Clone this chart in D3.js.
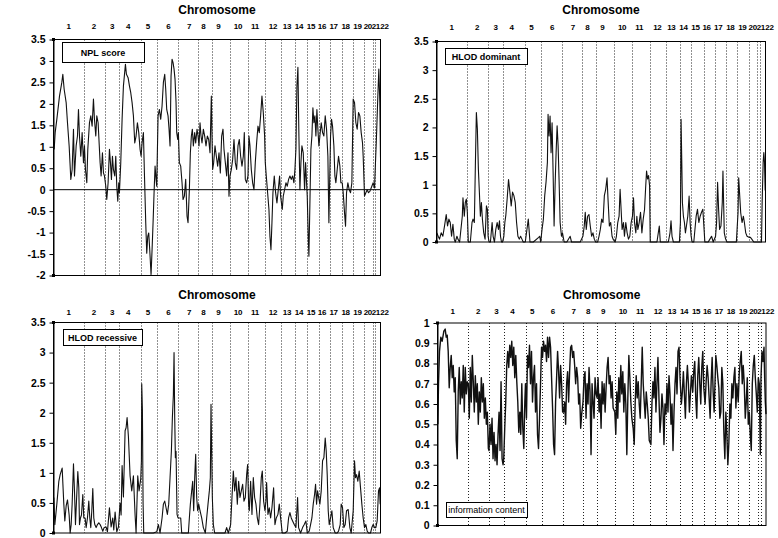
<!DOCTYPE html>
<meta charset="utf-8">
<script src="https://d3js.org/d3.v7.min.js"></script>
<style type="text/css">
body { margin: 0; background: #fff; }
text { font-family: Arial, "Liberation Sans", sans-serif; fill: #000; }
.tick text { font-weight: bold; font-size: 10.5px; }
.title { font-weight: bold; font-size: 12px; text-anchor: middle; }
.chrom { font-weight: bold; font-size: 8px; text-anchor: middle; letter-spacing: -0.3px; }
.boxlab { font-weight: bold; font-size: 9px; text-anchor: middle; }
.sep { stroke: #222; stroke-width: 1; stroke-dasharray: 1,2; }
.frame { fill: none; stroke: #000; stroke-width: 1; }
.trace { fill: none; stroke: #111; stroke-width: 1.1; stroke-linejoin: round; }
</style>
<body>
<script>

// chromosome layout along the genome axis (arbitrary map units)
var chromosomes = ["1","2","3","4","5","6","7","8","9","10","11","12","13","14","15","16","17","18","19","20","21","22"];
var chrBounds = [0, 92, 154, 198, 264, 311, 375, 434, 476, 530, 585, 636, 684, 726, 760, 798, 830, 865, 898, 932, 958, 966, 982];
var chrLabelPos = [45, 121, 176, 224, 283, 345, 407, 450, 495, 554, 605, 659, 701, 737, 773, 806, 841, 877, 913, 944, 968, 994];

var ticksLod = [0, 0.5, 1, 1.5, 2, 2.5, 3, 3.5];
var ticksNpl = [-2, -1.5, -1, -0.5, 0, 0.5, 1, 1.5, 2, 2.5, 3, 3.5];
var ticksInfo = [0, 0.1, 0.2, 0.3, 0.4, 0.5, 0.6, 0.7, 0.8, 0.9, 1];

// [position, value]
var nplScore = [
[2,0.94],[5,1.33],[10,1.64],[18,2.18],[25,2.50],[28,2.69],[32,2.34],[38,2.03],[42,1.56],[47,1.02],[52,0.24],[56,0.47],[60,1.41],[63,0.32],[68,1.02],[72,1.25],[75,1.87],[78,1.25],[82,0.78],[86,1.33],[90,0.63],[93,1.02],[96,0.47],[100,0.16],
[103,0.94],[108,1.56],[112,1.72],[116,1.48],[120,2.11],[123,1.64],[127,1.25],[130,1.72],[134,1.56],[137,1.09],[140,0.63],[143,0.32],[147,0.86],[150,0.39],[153,0.32],
[157,0.08],[160,-0.23],[164,0.16],[168,0.94],[171,0.63],[174,0.24],[177,0.78],[180,0.47],[184,0.32],[187,0.78],[190,0.08],[193,-0.27],[196,0.16],[198,-0.07],
[202,0.63],[206,1.64],[210,2.42],[216,2.92],[219,2.69],[224,2.61],[228,2.42],[232,2.26],[236,2.03],[240,1.72],[244,1.09],[248,1.25],[252,1.56],[256,1.33],[260,0.94],[263,0.78],[266,1.09],[270,1.33],
[273,0.39],[277,-0.77],[280,-1.48],[283,-1.09],[286,-1.01],[289,-1.40],[293,-1.98],[296,-1.40],[299,-0.77],[302,-0.07],[305,0.55],[308,0.24],[310,0.08],
[314,1.72],[318,1.87],[322,1.64],[326,1.95],[330,2.50],[334,2.69],[337,2.34],[340,1.87],[344,1.72],[347,1.41],[350,1.02],[353,2.65],[356,3.04],[359,2.96],[362,2.81],[365,2.57],[368,2.03],[370,1.33],[373,1.17],[375,1.33],
[378,0.63],[382,0.55],[386,0.16],[389,-0.23],[393,-0.15],[397,0.24],[401,-0.62],[404,-0.77],[408,0.00],[411,0.86],[414,1.25],[417,1.41],[420,1.02],[424,1.33],[427,1.09],[431,1.41],[434,1.25],
[437,1.02],[440,1.56],[443,1.25],[446,1.09],[450,1.41],[454,1.25],[458,1.02],[462,1.25],[466,1.17],[470,0.86],[474,2.18],[476,1.25],[478,0.47],
[481,0.63],[485,1.02],[489,0.78],[493,0.55],[497,0.86],[501,0.39],[505,1.25],[509,1.41],[512,0.94],[516,0.63],[520,0.32],[524,0.86],[527,-0.15],[530,0.32],
[534,0.47],[538,0.70],[542,1.17],[546,0.63],[550,0.47],[554,1.02],[558,1.17],[562,0.78],[566,0.55],[570,0.78],[573,1.33],[576,0.24],[580,0.16],[584,0.32],[587,1.25],
[590,1.02],[594,0.47],[598,0.16],[602,0.00],[606,0.63],[610,1.09],[614,1.48],[618,1.33],[622,1.72],[626,2.18],[630,1.80],[634,1.25],[636,0.63],
[639,0.32],[643,-0.07],[647,-0.46],[650,-1.09],[653,-1.40],[656,-0.77],[659,-0.07],[663,0.32],[667,-0.07],[671,-0.31],[675,0.00],[679,0.32],[682,-0.15],
[687,-0.46],[690,-0.15],[694,0.00],[698,0.16],[702,0.08],[706,0.24],[710,0.32],[714,0.24],[718,0.32],[722,0.16],[725,0.47],
[728,0.94],[731,2.42],[734,2.85],[737,1.25],[740,0.00],[743,0.63],[746,1.02],[750,0.86],[754,0.00],[757,0.63],
[762,-0.15],[765,-1.09],[767,-1.55],[770,-0.31],[773,0.94],[776,1.25],[779,1.91],[782,1.56],[785,1.72],[788,1.25],[791,1.87],[794,1.41],[797,1.02],
[800,1.25],[804,1.56],[808,1.33],[812,1.25],[816,1.72],[820,1.41],[824,0.78],[827,-0.77],
[832,1.25],[835,1.64],[838,1.48],[842,1.02],[845,0.32],[848,0.16],[852,0.47],[856,0.78],[860,0.55],[863,0.16],
[867,0.16],[870,-0.07],[874,-0.54],[877,-0.85],[880,-0.07],[884,0.16],[888,0.00],[892,-0.07],[896,0.16],
[900,2.11],[904,2.03],[908,1.56],[912,1.41],[916,1.80],[920,1.72],[924,1.33],[928,1.09],[930,0.78],
[934,-0.15],[938,-0.07],[942,0.00],[946,-0.07],[950,-0.04],[954,0.04],
[960,0.16],[964,0.04],
[970,1.25],[974,2.18],[977,2.81],[980,2.03],[982,0.75]
];

var hlodDominant = [
[1,0.16],[5,0.10],[9,0.05],[14,0.16],[19,0.10],[24,0.28],[29,0.48],[33,0.28],[37,0.40],[41,0.34],[45,0.10],[49,0.31],[53,0.05],[56,0],[61,0.10],[64,0.05],[69,0],[77,0.45],[79,0.77],[83,0.45],[86,0.69],[89,0.75],[92,0.52],
[95,0],[101,0],[106,0.34],[109,0.40],[113,0.34],[116,1.33],[119,2.26],[122,1.97],[125,1.27],[128,0.87],[131,0.45],[134,0.69],[137,0.40],[141,0.16],[145,0.05],[149,0.63],[152,0.57],[154,0.10],
[157,0],[161,0],[166,0.34],[169,0.10],[173,0],[177,0.22],[181,0.34],[185,0.22],[188,0.37],[191,0.10],[194,0],[197,0],
[201,0.10],[204,0.34],[207,0.47],[211,0.76],[215,1.09],[219,0.87],[223,0.63],[227,0.87],[231,0.81],[235,0.69],[239,0.34],[243,0.10],[247,0.05],[251,0.10],[255,0.05],[259,0],
[265,0],[274,0.40],[279,0],[289,0],[305,0.08],[308,0.10],[311,0],
[315,0.22],[319,0.40],[323,0.81],[327,1.05],[331,1.39],[333,2.23],[336,1.85],[339,2.20],[342,1.56],[345,2.08],[348,1.22],[351,0.28],[354,0.98],[357,1.56],[360,2.03],[363,1.68],[366,1.05],[369,0.34],[373,0.10],[376,0.16],
[381,0],[389,0],[399,0.10],[403,0],[419,0],[429,0],
[437,0.10],[441,0.28],[444,0.52],[447,0.22],[451,0.45],[455,0.48],[459,0.28],[463,0.10],[467,0.16],[471,0.05],[475,0],
[481,0],[485,0.10],[489,0.22],[493,0.40],[497,0.34],[501,0.81],[505,0.92],[509,1.12],[512,0.74],[516,0.28],[520,0.34],[524,0.10],[527,0.05],
[533,0],[537,0.10],[541,0.34],[545,0.45],[548,0.92],[551,0.57],[554,0.22],[558,0.34],[561,0.10],[565,0.34],[569,0.16],[573,0.05],[577,0.10],[581,0.34],[585,0.45],
[588,0.77],[591,0.34],[595,0.16],[598,0.45],[601,0.22],[605,0.34],[609,0.52],[613,0.16],[617,0.40],[621,0.57],[624,0.92],[627,1.24],[630,1.10],[633,1.16],[636,0.98],
[638,0],[648,0],[658,0],[665,0.28],[668,0],[678,0],[683,0],
[687,0],[692,0],[697,0.16],[700,0.37],[703,0.10],[707,0],[717,0],[725,0],
[728,0.34],[730,2.14],[732,1.44],[734,0.69],[737,0.45],[740,0.34],[743,0.16],[746,0.28],[750,0.45],[754,0.80],[757,0.34],[760,0.10],
[763,0],[768,0],[775,0.45],[779,0.57],[783,0.34],[787,0.45],[791,0.52],[795,0.57],
[801,0],[806,0],[811,0],[816,0.05],[821,0.10],[826,0],
[833,0.10],[836,0.34],[839,1.04],[842,0.57],[845,0.22],[849,0.28],[853,0.69],[855,1.24],[857,0.69],[859,0.16],[863,0.05],
[867,0],[877,0],[887,0],[895,0],
[900,0.51],[902,1.12],[905,0.81],[908,0.51],[912,0.34],[916,0.45],[919,0.34],[923,0.16],[927,0.10],
[934,0.08],[937,0.08],[941,0.05],[947,0],[955,0],
[960,0],[964,0],
[970,0],[972,0.69],[975,1.39],[977,1.56],[979,1.39],[981,0.90]
];

var hlodRecessive = [
[1,0.59],[4,0.14],[10,0.48],[16,0.86],[20,0.97],[26,1.08],[31,0.48],[34,0.20],[38,0.45],[42,0.55],[47,0.30],[50,0],[53,0.14],[56,0.48],[60,1.15],[63,0.70],[66,0.14],[69,0.53],[73,1.02],[76,0.75],[78,0.14],[81,0.25],[84,0.30],[88,0.64],[91,0.25],
[95,0.25],[98,0.09],[102,0.25],[106,0.53],[109,0.25],[112,0.09],[115,0.37],[118,0.74],[121,0.25],[124,0.14],[128,0.09],[132,0.14],[136,0.17],[140,0.14],[144,0.09],[148,0.03],[152,0.09],
[158,0.10],[162,0.02],[168,0.42],[173,0.10],[178,0.25],[181,0.05],[185,0.35],[190,0.02],[195,0.10],
[200,0.50],[203,0.30],[206,1.12],[210,0.60],[215,1.70],[218,1.75],[221,1.92],[225,1.60],[230,0.95],[235,0.70],[240,0.95],[245,0.30],[248,0],[253,0.95],[257,0.70],[262,0.90],[264,1.20],[265,2.48],[267,2.05],[269,0.50],[271,0],
[280,0],[290,0],[300,0],[310,0.02],
[315,0.14],[320,0],[326,0.25],[330,0.48],[334,0.53],[338,0.42],[342,0.31],[346,0.48],[350,0.92],[354,1.36],[357,1.92],[360,2.30],[362,3.00],[364,1.92],[366,1.25],[368,1.36],[371,0.31],[374,0.25],
[378,0.25],[382,0.25],[385,0],[390,0],[405,0],[408,0.25],[411,0.48],[415,0.70],[418,0.86],[421,0.37],[424,0.92],[427,1.31],[430,0.59],[433,0.37],
[436,0.48],[440,0.37],[445,0.25],[450,0.09],[456,0],[460,0.25],[464,0.48],[468,0.70],[471,0.92],[473,2.14],[475,1.36],[477,0.59],
[480,0.14],[484,0],[500,0],[515,0],[520,0.09],[525,0],
[532,0.14],[536,0.59],[540,1.03],[544,0.70],[548,0.92],[552,0.48],[556,0.86],[560,0.59],[564,0.70],[568,0.81],[572,0.53],[576,0.59],[580,0.97],[583,1.14],[586,0.48],
[588,0.37],[592,0.86],[596,0.31],[600,0.92],[604,0.59],[608,0.48],[612,0.25],[616,0.14],[620,0.48],[624,0.92],[627,1.03],[631,0.53],[635,0.37],
[638,0.53],[640,0.84],[644,0.31],[648,0.42],[652,0.25],[656,0.42],[661,0.75],[665,0.14],[669,0.25],[674,0.31],[678,0.48],[682,0.25],
[687,0],[695,0],[702,0.03],[706,0.25],[710,0.34],[714,0.25],[718,0.20],[723,0.14],
[728,0.09],[733,0.59],[736,0.09],[742,0],[748,0.09],[753,0.14],[758,0.20],
[762,0],[768,0.03],[772,0.14],[776,0.25],[780,0.48],[784,0.64],[787,0.81],[790,0.48],[793,0.70],[796,0.60],
[800,0.48],[804,0.70],[808,1.20],[812,1.25],[816,1.58],[819,1.36],[822,0.97],[825,0.37],[828,0.14],
[832,0.25],[836,0.37],[840,0.09],[846,0],[852,0],[856,0.03],[861,0.14],[864,0.48],
[868,0.42],[872,0.09],[876,0.14],[880,0.37],[885,0.39],[890,0.09],[894,0],
[900,0.37],[904,1.20],[907,0.92],[910,0.97],[914,0.86],[918,1.03],[922,0.75],[926,0.48],[930,0.25],
[934,0.09],[938,0.14],[942,0.03],[946,0],[952,0],[956,0.09],
[960,0.14],[964,0.09],
[968,0.09],[972,0.20],[976,0.70],[979,0.75],[981,0.48]
];

var infoContent = [
[1,0.50],[3,0.70],[6,0.86],[10,0.93],[14,0.91],[19,0.96],[23,0.97],[26,0.93],[29,0.94],[32,0.86],[35,0.68],[38,0.78],[41,0.84],[44,0.73],[47,0.79],[50,0.66],[53,0.73],[56,0.42],[59,0.33],[62,0.66],[65,0.78],[68,0.60],[71,0.71],[74,0.63],[77,0.79],[80,0.56],[83,0.78],[86,0.65],[89,0.71],
[92,0.70],[95,0.53],[98,0.78],[101,0.61],[104,0.84],[107,0.71],[110,0.56],[113,0.74],[116,0.61],[119,0.70],[122,0.50],[125,0.66],[128,0.56],[131,0.73],[134,0.61],[137,0.70],[140,0.53],[143,0.63],[146,0.50],[149,0.56],[152,0.38],
[154,0.37],[157,0.50],[160,0.40],[163,0.53],[166,0.33],[169,0.46],[172,0.32],[175,0.40],[178,0.30],[181,0.45],[184,0.56],[187,0.37],[190,0.71],[193,0.33],[196,0.30],
[198,0.33],[201,0.48],[204,0.61],[207,0.79],[210,0.86],[213,0.78],[216,0.89],[219,0.83],[222,0.91],[225,0.79],[228,0.88],[231,0.73],[234,0.84],[237,0.71],[240,0.61],[243,0.46],[246,0.56],[249,0.45],[252,0.70],[255,0.48],[258,0.38],[261,0.61],
[263,0.70],[266,0.53],[269,0.84],[272,0.78],[275,0.89],[278,0.70],[281,0.86],[284,0.61],[287,0.73],[290,0.79],[293,0.56],[296,0.70],[299,0.45],[302,0.38],[305,0.53],[308,0.70],
[311,0.88],[314,0.83],[317,0.91],[320,0.86],[323,0.89],[326,0.81],[329,0.93],[332,0.83],[335,0.93],[338,0.88],[341,0.73],[344,0.58],[347,0.40],[350,0.35],[353,0.61],[356,0.73],[359,0.86],[362,0.76],[365,0.63],[368,0.79],[371,0.70],[374,0.56],
[377,0.56],[380,0.61],[383,0.50],[386,0.70],[389,0.76],[392,0.61],[395,0.76],[398,0.88],[401,0.89],[404,0.83],[407,0.86],[410,0.79],[413,0.70],[416,0.78],[419,0.73],[422,0.60],[425,0.65],[428,0.48],[431,0.55],
[435,0.61],[438,0.73],[441,0.76],[444,0.53],[447,0.70],[450,0.60],[453,0.78],[456,0.66],[459,0.35],[462,0.70],[465,0.61],[468,0.53],[471,0.73],[474,0.65],
[477,0.63],[480,0.73],[483,0.56],[486,0.65],[489,0.48],[492,0.71],[495,0.60],[498,0.70],[501,0.56],[504,0.68],[507,0.78],[510,0.83],[513,0.70],[516,0.74],[519,0.63],[522,0.71],[525,0.58],
[530,0.56],[533,0.45],[536,0.66],[539,0.53],[542,0.73],[545,0.61],[548,0.79],[551,0.65],[554,0.76],[557,0.56],[560,0.70],[563,0.60],[566,0.35],[569,0.63],[572,0.84],[575,0.73],[578,0.61],[581,0.53],
[585,0.48],[588,0.40],[591,0.61],[594,0.74],[597,0.63],[600,0.71],[603,0.60],[606,0.53],[609,0.70],[612,0.88],[615,0.70],[618,0.61],[621,0.53],[624,0.66],[627,0.60],[630,0.53],[633,0.42],
[638,0.40],[641,0.60],[644,0.71],[647,0.63],[650,0.78],[653,0.56],[656,0.70],[659,0.83],[662,0.63],[665,0.46],[668,0.53],[671,0.65],[674,0.58],[677,0.40],[680,0.60],[683,0.55],
[686,0.70],[689,0.56],[692,0.74],[695,0.65],[698,0.50],[701,0.60],[704,0.37],[707,0.56],[710,0.70],[713,0.78],[716,0.65],[719,0.86],[722,0.88],[725,0.73],
[729,0.60],[732,0.66],[735,0.76],[738,0.65],[741,0.53],[744,0.70],[747,0.79],[750,0.70],[753,0.56],[756,0.65],[759,0.74],
[763,0.66],[766,0.76],[769,0.81],[772,0.63],[775,0.53],[778,0.74],[781,0.83],[784,0.70],[787,0.60],[790,0.78],[793,0.86],[796,0.68],
[800,0.60],[803,0.71],[806,0.79],[809,0.73],[812,0.63],[815,0.53],[818,0.71],[821,0.83],[824,0.66],[827,0.56],
[832,0.84],[835,0.79],[838,0.73],[841,0.68],[844,0.53],[847,0.56],[850,0.78],[853,0.70],[856,0.46],[859,0.33],[862,0.56],
[865,0.45],[868,0.30],[871,0.41],[874,0.60],[877,0.53],[880,0.70],[883,0.63],[886,0.73],[889,0.78],[892,0.58],[895,0.70],
[899,0.61],[902,0.75],[905,0.81],[908,0.86],[911,0.70],[914,0.79],[917,0.70],[920,0.53],[923,0.61],[926,0.73],[929,0.50],
[932,0.56],[935,0.45],[938,0.37],[941,0.70],[944,0.79],[947,0.84],[950,0.73],[953,0.65],[956,0.56],
[959,0.73],[962,0.70],[965,0.35],
[967,0.73],[970,0.86],[973,0.81],[976,0.88],[978,0.73],[980,0.61],[982,0.55]
];

var width = 778, height = 538;

var svg = d3.select("body").append("svg")
    .attr("width", width)
    .attr("height", height);

// panel layout (pixel boxes)
var panels = [
  {series: nplScore, label: "NPL score", yDomain: [-2, 3.5], ticks: ticksNpl,
   left: 53.5, right: 380.5, top: 39.5, bottom: 275.5, titleY: 13.5, chrY: 28.5,
   box: [62, 42, 82, 20], zero: true, bold: true, stroke: 1.1},
  {series: hlodDominant, label: "HLOD dominant", yDomain: [0, 3.5], ticks: ticksLod,
   left: 436.5, right: 765.5, top: 41.5, bottom: 242, titleY: 13.5, chrY: 30,
   box: [445, 48, 82, 16], zero: false, bold: true, stroke: 1.1},
  {series: hlodRecessive, label: "HLOD recessive", yDomain: [0, 3.5], ticks: ticksLod,
   left: 53.5, right: 380.5, top: 322.5, bottom: 533, titleY: 298.5, chrY: 314.5,
   box: [63, 329, 79, 16], zero: false, bold: true, stroke: 1.1},
  {series: infoContent, label: "information content", yDomain: [0, 1], ticks: ticksInfo,
   left: 437.5, right: 766, top: 323, bottom: 525.5, titleY: 298.5, chrY: 314,
   box: [446, 502, 81, 15], zero: false, bold: false, stroke: 1.4}
];

var fmt = function(d) { return String(+d.toFixed(1)); };

panels.forEach(function(p) {
  var x = d3.scaleLinear().domain([0, chrBounds[chrBounds.length - 1]]).range([p.left, p.right]);
  var y = d3.scaleLinear().domain(p.yDomain).range([p.bottom, p.top]);
  var g = svg.append("g");

  g.append("text").attr("class", "title")
    .attr("x", (p.left + p.right) / 2)
    .attr("y", p.titleY)
    .text("Chromosome");

  g.selectAll(".chrom").data(chromosomes).enter().append("text")
    .attr("class", "chrom")
    .attr("x", function(d, i) { return x(chrLabelPos[i]); })
    .attr("y", p.chrY)
    .text(function(d) { return d; });

  // chromosome separators
  g.selectAll(".sep").data(chrBounds.slice(1, -1)).enter().append("line")
    .attr("class", "sep")
    .attr("x1", function(d) { return Math.round(x(d)) + 0.5; })
    .attr("x2", function(d) { return Math.round(x(d)) + 0.5; })
    .attr("y1", p.top)
    .attr("y2", p.bottom);

  if (p.zero) {
    g.append("line")
      .attr("x1", p.left).attr("x2", p.right)
      .attr("y1", y(0)).attr("y2", y(0))
      .style("stroke", "#000");
  }

  var line = d3.line()
    .x(function(d) { return x(d[0]); })
    .y(function(d) { return y(d[1]); });

  g.append("path").datum(p.series)
    .attr("class", "trace")
    .style("stroke-width", p.stroke)
    .attr("d", line);

  g.append("rect").attr("class", "frame")
    .attr("x", p.left).attr("y", p.top)
    .attr("width", p.right - p.left)
    .attr("height", p.bottom - p.top);

  g.append("g")
    .attr("transform", "translate(" + p.left + ",0)")
    .call(d3.axisLeft(y).tickValues(p.ticks).tickSize(4).tickSizeOuter(0).tickPadding(4).tickFormat(fmt));

  // corner markers
  [p.top, p.bottom].forEach(function(cy) {
    g.append("rect").attr("x", p.left - 1.5).attr("y", cy - 1.5)
      .attr("width", 3).attr("height", 3).style("fill", "#000");
  });

  // label box
  g.append("rect")
    .attr("x", p.box[0] + 0.5).attr("y", p.box[1] + 0.5)
    .attr("width", p.box[2]).attr("height", p.box[3])
    .style("fill", "#fff").style("stroke", "#000");
  g.append("text").attr("class", "boxlab")
    .attr("x", p.box[0] + p.box[2] / 2)
    .attr("y", p.box[1] + p.box[3] / 2 + 3.5)
    .style("font-weight", p.bold ? "bold" : "normal")
    .text(p.label);
});

</script>
</body>
</html>
